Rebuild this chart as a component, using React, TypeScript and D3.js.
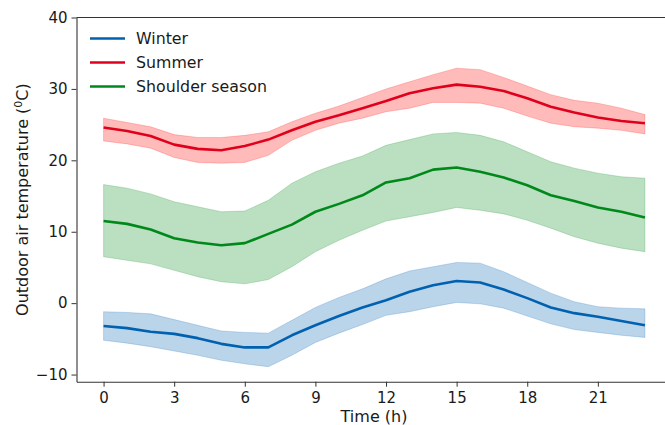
import * as d3 from "d3";
import { useEffect, useRef } from "react";

const hours = d3.range(0, 24);

const winterMean = [-3.2, -3.5, -4.0, -4.3, -4.9, -5.7, -6.2, -6.2, -4.5, -3.1, -1.8, -0.6, 0.4, 1.6, 2.5, 3.1, 2.9, 1.9, 0.7, -0.6, -1.4, -1.9, -2.5, -3.1];
const winterHigh = [-1.2, -1.3, -1.5, -2.3, -3.1, -3.9, -4.1, -4.2, -2.4, -0.6, 0.8, 2.0, 3.4, 4.5, 5.1, 5.7, 5.6, 4.4, 2.9, 1.4, 0.2, -0.5, -0.7, -0.8];
const winterLow = [-5.2, -5.6, -6.1, -6.7, -7.3, -8.0, -8.5, -8.9, -7.3, -5.5, -4.2, -3.0, -1.7, -1.2, -0.5, 0.1, -0.1, -0.7, -1.8, -2.9, -3.7, -4.1, -4.5, -4.8];

const summerMean = [24.6, 24.1, 23.4, 22.2, 21.6, 21.4, 22.0, 22.9, 24.2, 25.4, 26.3, 27.3, 28.3, 29.4, 30.1, 30.6, 30.3, 29.7, 28.7, 27.5, 26.7, 26.0, 25.5, 25.2];
const summerHigh = [25.9, 25.3, 24.7, 23.6, 23.2, 23.2, 23.5, 24.0, 25.4, 26.6, 27.6, 28.8, 30.0, 31.0, 32.0, 32.9, 32.7, 31.6, 30.4, 29.2, 28.4, 28.0, 27.3, 26.4];
const summerLow = [22.7, 22.3, 21.7, 20.4, 19.7, 19.6, 19.7, 20.7, 22.8, 24.2, 25.2, 25.9, 26.8, 27.3, 28.1, 28.1, 28.0, 27.3, 26.2, 25.2, 24.7, 24.5, 24.2, 23.7];

const shoulderMean = [11.5, 11.1, 10.3, 9.1, 8.5, 8.1, 8.4, 9.7, 11.0, 12.8, 13.9, 15.1, 16.9, 17.5, 18.7, 19.0, 18.4, 17.6, 16.5, 15.1, 14.3, 13.4, 12.8, 12.0];
const shoulderHigh = [16.6, 16.1, 15.3, 14.2, 13.5, 12.8, 12.9, 14.4, 16.8, 18.4, 19.6, 20.6, 22.1, 22.9, 23.7, 23.9, 23.5, 22.6, 21.2, 19.8, 18.9, 18.2, 17.7, 17.5];
const shoulderLow = [6.5, 6.0, 5.5, 4.6, 3.7, 3.0, 2.7, 3.3, 5.1, 7.2, 8.8, 10.2, 11.5, 12.1, 12.7, 13.4, 13.0, 12.5, 11.6, 10.5, 9.3, 8.4, 7.7, 7.2];

const seriesNames = ["Winter", "Summer", "Shoulder season"];
const seriesColors = ["#0061b0", "#e0001b", "#00891a"];
const bandColors = ["#0061b0", "#ff0000", "#00891a"];

const xTicks = [0, 3, 6, 9, 12, 15, 18, 21];
const yTicks = [-10, 0, 10, 20, 30, 40];

const W = 665;
const H = 425;

export default function App() {
  const ref = useRef<SVGSVGElement>(null);

  useEffect(() => {
    const svg = d3.select(ref.current);
    svg.selectAll("*").remove();

    const x = d3.scaleLinear().domain([-1.15, 24.15]).range([76.5, 672]);
    const y = d3.scaleLinear().domain([-11, 40]).range([381.7, 17.5]);

    const series = [
      { mean: winterMean, high: winterHigh, low: winterLow },
      { mean: summerMean, high: summerHigh, low: summerLow },
      { mean: shoulderMean, high: shoulderHigh, low: shoulderLow },
    ];

    const plot = svg.append("g");

    // shaded ranges
    series.forEach((s, k) => {
      const band = d3
        .area<number>()
        .x((h) => x(h))
        .y0((_, i) => y(s.low[i]))
        .y1((_, i) => y(s.high[i]));
      plot
        .append("path")
        .attr("d", band(hours))
        .attr("fill", bandColors[k])
        .attr("fill-opacity", 0.27)
        .attr("stroke", bandColors[k])
        .attr("stroke-opacity", 0.2)
        .attr("stroke-width", 1);
    });

    // mean lines
    series.forEach((s, k) => {
      const line = d3
        .line<number>()
        .x((h) => x(h))
        .y((_, i) => y(s.mean[i]));
      plot
        .append("path")
        .attr("d", line(hours))
        .attr("fill", "none")
        .attr("stroke", seriesColors[k])
        .attr("stroke-width", 2.6)
        .attr("stroke-linejoin", "round");
    });

    const xAxis = svg
      .append("g")
      .attr("transform", `translate(0,${y(-11)})`)
      .call(d3.axisBottom(x).tickValues(xTicks).tickSize(5).tickPadding(6).tickSizeOuter(0));
    xAxis.select(".domain").attr("stroke", "#333").attr("stroke-width", 1.1);

    const yAxis = svg
      .append("g")
      .attr("transform", `translate(${x(-1.15)},0)`)
      .call(d3.axisLeft(y).tickValues(yTicks).tickSize(5).tickPadding(4).tickSizeOuter(0));
    yAxis.select(".domain").attr("stroke", "#333").attr("stroke-width", 1.1);

    [xAxis, yAxis].forEach((a) => {
      a.selectAll(".tick line").attr("stroke", "#333");
      a.selectAll(".tick text")
        .attr("fill", "#1a1a1a")
        .style("font-family", "DejaVu Sans")
        .style("font-size", "15px");
    });

    // top spine
    svg
      .append("line")
      .attr("x1", x(-1.15))
      .attr("x2", 672)
      .attr("y1", y(40))
      .attr("y2", y(40))
      .attr("stroke", "#333")
      .attr("stroke-width", 1.1);

    svg
      .append("text")
      .attr("x", 374)
      .attr("y", 422)
      .attr("text-anchor", "middle")
      .style("font-family", "DejaVu Sans")
      .style("font-size", "16px")
      .attr("fill", "#1a1a1a")
      .text("Time (h)");

    const yl = svg
      .append("text")
      .attr("transform", `translate(28,${(y(-11) + y(40)) / 2}) rotate(-90)`)
      .attr("text-anchor", "middle")
      .style("font-family", "DejaVu Sans")
      .style("font-size", "16px")
      .attr("fill", "#1a1a1a");
    yl.append("tspan").text("Outdoor air temperature (");
    yl.append("tspan").attr("baseline-shift", "super").style("font-size", "11px").text("0");
    yl.append("tspan").text("C)");

    // legend
    const legend = svg.append("g");
    seriesNames.forEach((name, k) => {
      const cy = 38.5 + k * 24;
      legend
        .append("line")
        .attr("x1", 90)
        .attr("x2", 125)
        .attr("y1", cy)
        .attr("y2", cy)
        .attr("stroke", seriesColors[k])
        .attr("stroke-width", 2.6);
      legend
        .append("text")
        .attr("x", 136)
        .attr("y", cy + 5.5)
        .style("font-family", "DejaVu Sans")
        .style("font-size", "15.8px")
        .attr("fill", "#1a1a1a")
        .text(name);
    });
  }, []);

  return (
    <svg
      ref={ref}
      width={W}
      height={H}
      style={{ position: "absolute", left: 0, top: 0, background: "#fff" }}
    />
  );
}
